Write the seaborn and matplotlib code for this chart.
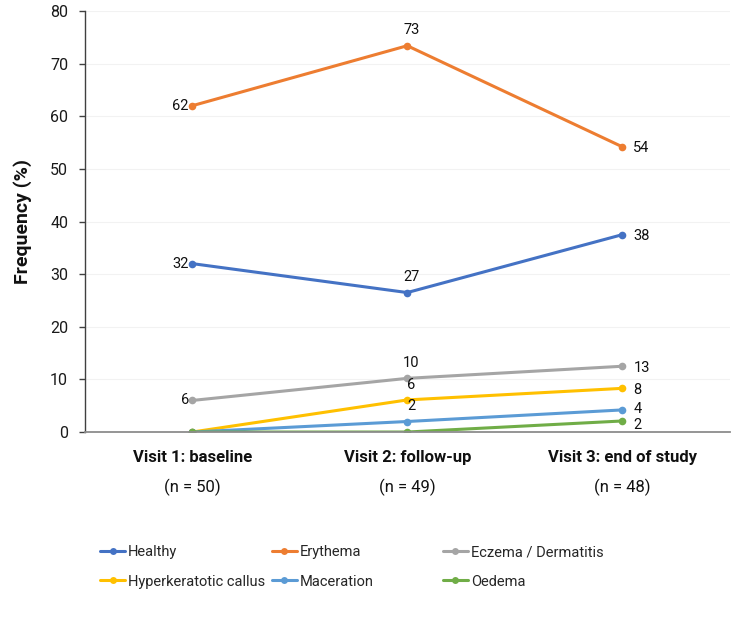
import pandas as pd
import numpy as np
import matplotlib.pyplot as plt
import seaborn as sns

visits = ['Visit 1: baseline', 'Visit 2: follow-up', 'Visit 3: end of study']
n_text = ['(n = 50)', '(n = 49)', '(n = 48)']

series = ['Healthy', 'Erythema', 'Eczema / Dermatitis',
          'Hyperkeratotic callus', 'Maceration', 'Oedema']
healthy = [32.0, 26.5, 37.5]
erythema = [62.0, 73.4, 54.2]
eczema = [6.0, 10.2, 12.5]
callus = [0.0, 6.1, 8.3]
maceration = [0.0, 2.0, 4.2]
oedema = [0.0, 0.0, 2.1]

# data labels as printed on the chart (None = no label)
healthy_lab = ['32', '27', '38']
erythema_lab = ['62', '73', '54']
eczema_lab = ['6', '10', '13']
callus_lab = [None, '6', '8']
maceration_lab = [None, '2', '4']
oedema_lab = [None, None, '2']

colors = ['#4472C4', '#ED7D31', '#A5A5A5', '#FFC000', '#5B9BD5', '#70AD47']

values = [healthy, erythema, eczema, callus, maceration, oedema]
labels = [healthy_lab, erythema_lab, eczema_lab, callus_lab, maceration_lab, oedema_lab]
# small vertical nudge (points) for the right-hand labels so 4 and 2 don't collide
nudge = [-1, -1, -1, -1, 1, -3]

rows = []
for name, vals in zip(series, values):
    for i, v in enumerate(vals):
        rows.append({'series': name, 'visit': i, 'freq': v})
df = pd.DataFrame(rows)

sns.set_theme(style='white')
plt.rcParams['font.family'] = ['Roboto', 'DejaVu Sans']

fig = plt.figure(figsize=(7.5, 6.21), dpi=100)
ax = fig.add_axes([0.113, 0.3043, 0.86, 0.678])

sns.lineplot(data=df, x='visit', y='freq', hue='series', hue_order=series,
             palette=colors, marker='o', markersize=5.5, markeredgewidth=0,
             linewidth=2.2, ax=ax, legend=True, sort=False)

ax.set_xlim(-0.5, 2.5)
ax.set_ylim(0, 80)
ax.set_yticks(np.arange(0, 81, 10))
ax.set_xticks(range(3))
ax.set_xticklabels(visits, fontweight='bold', fontsize=12, color='#111111')
ax.tick_params(axis='x', length=0, pad=13)
ax.tick_params(axis='y', length=4, width=1, color='#404040', labelsize=11.5,
               labelcolor='#1a1a1a', pad=8, left=True)
for i, t in enumerate(n_text):
    ax.annotate(t, xy=(i, 0), xycoords=('data', 'axes fraction'),
                xytext=(0, -40), textcoords='offset points',
                ha='center', va='center', fontsize=12, color='#111111')

ax.set_xlabel('')
ax.set_ylabel('Frequency (%)', fontweight='bold', fontsize=14, labelpad=13,
              color='#111111')
ax.yaxis.grid(True, color='#F2F2F2', linewidth=0.8)
ax.set_axisbelow(True)
for s in ['top', 'right']:
    ax.spines[s].set_visible(False)
ax.spines['left'].set_color('#404040')
ax.spines['left'].set_linewidth(1)
ax.spines['bottom'].set_color('#8C8C8C')
ax.spines['bottom'].set_linewidth(1.3)

# data labels
for vals, labs, dy in zip(values, labels, nudge):
    for i, (v, lab) in enumerate(zip(vals, labs)):
        if lab is None:
            continue
        if i == 0:
            off, ha, va = (-2.5, 0), 'right', 'center'
        elif i == 1:
            off, ha, va = (3, 6), 'center', 'bottom'
        else:
            off, ha, va = (8, dy), 'left', 'center'
        ax.annotate(lab, xy=(i, v), xytext=off, textcoords='offset points',
                    ha=ha, va=va, fontsize=10.5, color='#111111')

# legend: three columns placed separately
handles, names = ax.get_legend_handles_labels()
ax.get_legend().remove()
col_x = [0.133, 0.362, 0.590]
for c in range(3):
    idx = [c, c + 3]
    leg = fig.legend([handles[k] for k in idx], [names[k] for k in idx],
                     loc='upper left', bbox_to_anchor=(col_x[c], 0.122),
                     frameon=False, fontsize=10.5, handlelength=1.75,
                     handletextpad=0.2, labelspacing=1.05, borderaxespad=0,
                     borderpad=0)
    for h in leg.legend_handles:
        h.set_linewidth(2.2)
        h.set_markersize(5)

fig.savefig('out.png', dpi=100)
